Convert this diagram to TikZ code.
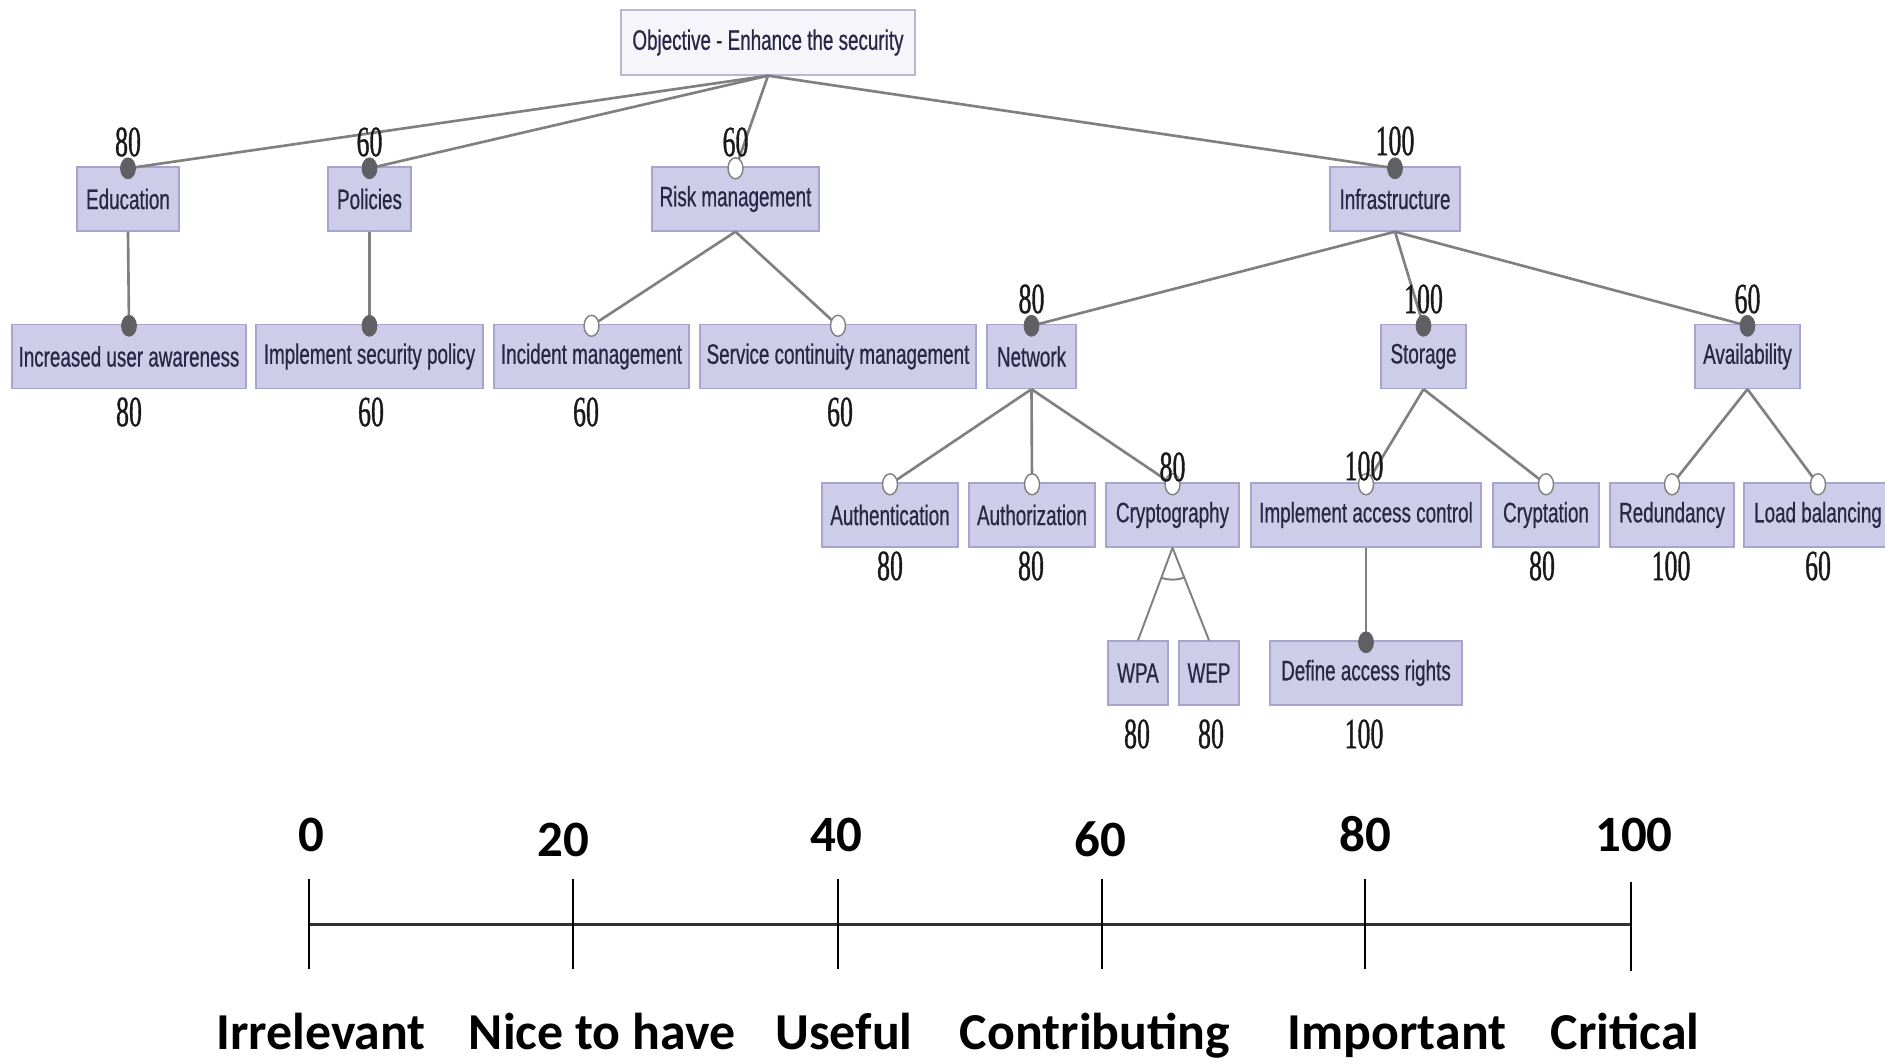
\documentclass[tikz,border=0pt]{standalone}
\usepackage{fontspec}
\usetikzlibrary{shapes.geometric}
\newfontfamily\boxfont[FakeStretch=0.67,FakeBold=0.6]{Liberation Sans}
\newfontfamily\numfont[FakeStretch=0.6,FakeBold=0.8]{Liberation Serif}
\newfontfamily\barfont{Carlito}
\definecolor{boxfill}{RGB}{205,205,233}
\definecolor{boxline}{RGB}{165,165,205}
\definecolor{boxtext}{RGB}{40,40,70}
\definecolor{rootfill}{RGB}{246,246,250}
\definecolor{rootline}{RGB}{185,185,205}
\definecolor{conn}{RGB}{128,128,128}
\definecolor{dotfill}{RGB}{95,95,100}
\definecolor{numcol}{RGB}{25,25,25}
\definecolor{barline}{RGB}{50,50,50}
\newcommand{\fedge}[3]{%
  \coordinate (c-#2) at ([yshift=-0.04cm]#2.north);
  \draw[link] (#1.south) -- (c-#2);
  \node[#3] (d-#2) at (c-#2) {};}
\begin{document}
\begin{tikzpicture}[x=0.02cm,y=-0.02cm,
  feat/.style={rectangle, draw=boxline, fill=boxfill, line width=0.8pt,
    minimum height=1.28cm, inner sep=0pt, text=boxtext,
    font=\boxfont\fontsize{16}{19}\selectfont},
  rootbox/.style={feat, draw=rootline, fill=rootfill, minimum height=1.3cm},
  num/.style={inner sep=0pt, text=numcol, font=\numfont\fontsize{24.5}{28}\selectfont},
  link/.style={draw=conn, line width=1.5pt},
  mand/.style={ellipse, fill=dotfill, draw=dotfill, minimum width=0.3cm,
    minimum height=0.42cm, inner sep=0pt},
  opt/.style={ellipse, fill=white, draw=conn, line width=0.8pt, minimum width=0.3cm,
    minimum height=0.42cm, inner sep=0pt},
  barnum/.style={inner sep=0pt, anchor=base, font=\barfont\bfseries\fontsize{29}{34}\selectfont},
  barlab/.style={inner sep=0pt, anchor=base, font=\barfont\bfseries\fontsize{29.5}{34}\selectfont},
  tick/.style={draw=black, line width=0.9pt}
]
\fill[white] (0,0) rectangle (1885,1064);
\useasboundingbox (0,0) rectangle (1885,1064);

% nodes
\node[rootbox, minimum width=5.88cm] (obj) at (768,42.5) {Objective - Enhance the security};

\node[feat, minimum width=2.04cm] (edu) at (128,199) {Education};
\node[feat, minimum width=1.66cm] (pol) at (369.5,199) {Policies};
\node[feat, minimum width=3.34cm] (risk) at (735.5,199) {Risk management};
\node[feat, minimum width=2.60cm] (infra) at (1395,199) {Infrastructure};

\node[feat, minimum width=4.68cm] (iua) at (129,356.5) {Increased user awareness};
\node[feat, minimum width=4.54cm] (isp) at (369.5,356.5) {Implement security policy};
\node[feat, minimum width=3.90cm] (inc) at (591.5,356.5) {Incident management};
\node[feat, minimum width=5.52cm] (scm) at (838,356.5) {Service continuity management};
\node[feat, minimum width=1.78cm] (net) at (1031.5,356.5) {Network};
\node[feat, minimum width=1.70cm] (sto) at (1423.5,356.5) {Storage};
\node[feat, minimum width=2.10cm] (ava) at (1747.5,356.5) {Availability};

\node[feat, minimum width=2.72cm] (auth) at (890,515) {Authentication};
\node[feat, minimum width=2.52cm] (authz) at (1032,515) {Authorization};
\node[feat, minimum width=2.66cm] (cryp) at (1172.5,515) {Cryptography};
\node[feat, minimum width=4.60cm] (iac) at (1366,515) {Implement access control};
\node[feat, minimum width=2.12cm] (crypt) at (1546,515) {Cryptation};
\node[feat, minimum width=2.48cm] (red) at (1672,515) {Redundancy};
\node[feat, minimum width=2.96cm] (lb) at (1818,515) {Load balancing};

\node[feat, minimum width=1.20cm] (wpa) at (1138,673) {WPA};
\node[feat, minimum width=1.20cm] (wep) at (1209,673) {WEP};
\node[feat, minimum width=3.84cm] (dar) at (1366,673) {Define access rights};

% connectors
\fedge{obj}{edu}{mand}
\fedge{obj}{pol}{mand}
\fedge{obj}{risk}{opt}
\fedge{obj}{infra}{mand}
\fedge{edu}{iua}{mand}
\fedge{pol}{isp}{mand}
\fedge{risk}{inc}{opt}
\fedge{risk}{scm}{opt}
\fedge{infra}{net}{mand}
\fedge{infra}{sto}{mand}
\fedge{infra}{ava}{mand}
\fedge{net}{auth}{opt}
\fedge{net}{authz}{opt}
\fedge{net}{cryp}{opt}
\fedge{sto}{iac}{opt}
\fedge{sto}{crypt}{opt}
\fedge{ava}{red}{opt}
\fedge{ava}{lb}{opt}
\fedge{iac}{dar}{mand}
\draw[link, line width=1.1pt] (cryp.south) -- (wpa.north);
\draw[link, line width=1.1pt] (cryp.south) -- (wep.north);
\draw[link, line width=1.1pt] (cryp.south) ++(250.4:0.64cm) arc[start angle=250.4, end angle=292.3, radius=0.64cm];

% numbers
\node[num] (n-edu) at (128,142) {80};
\node[num] (n-pol) at (369.5,142) {60};
\node[num] (n-risk) at (735.5,142) {60};
\node[num] (n-infra) at (1395,141) {100};
\node[num] (n-net) at (1031.5,299) {80};
\node[num] (n-sto) at (1423.5,299) {100};
\node[num] (n-ava) at (1747.5,299) {60};
\node[num] (m-iua) at (129,412) {80};
\node[num] (m-isp) at (371,412) {60};
\node[num] (m-inc) at (586,412) {60};
\node[num] (m-scm) at (840,412) {60};
\node[num] (n-cryp) at (1172.5,467) {80};
\node[num] (n-iac) at (1364,466) {100};
\node[num] (m-auth) at (890,566) {80};
\node[num] (m-authz) at (1031,566) {80};
\node[num] (m-crypt) at (1542,566) {80};
\node[num] (m-red) at (1671,566) {100};
\node[num] (m-lb) at (1818,566) {60};
\node[num] (m-wpa) at (1137,734) {80};
\node[num] (m-wep) at (1211,734) {80};
\node[num] (m-dar) at (1364,734) {100};

% scale bar
\draw[draw=barline, line width=1.7pt] (309,924) -- (1631,924);
\foreach \xx in {309,573,838,1102,1365} { \draw[tick] (\xx,879) -- (\xx,969); }
\draw[tick] (1631,882) -- (1631,971);
\node[barnum] (s0) at (311,851) {0};
\node[barnum] (s20) at (563,856) {20};
\node[barnum] (s40) at (836,851) {40};
\node[barnum] (s60) at (1100,856) {60};
\node[barnum] (s80) at (1365,851) {80};
\node[barnum] (s100) at (1634,851) {100};
\node[barlab] (l0) at (321,1049) {Irrelevant};
\node[barlab] (l20) at (602,1049) {Nice to have};
\node[barlab] (l40) at (844,1049) {Useful};
\node[barlab] (l60) at (1095,1049) {Contributing};
\node[barlab] (l80) at (1397,1049) {Important};
\node[barlab] (l100) at (1625,1049) {Critical};
\end{tikzpicture}
\end{document}
